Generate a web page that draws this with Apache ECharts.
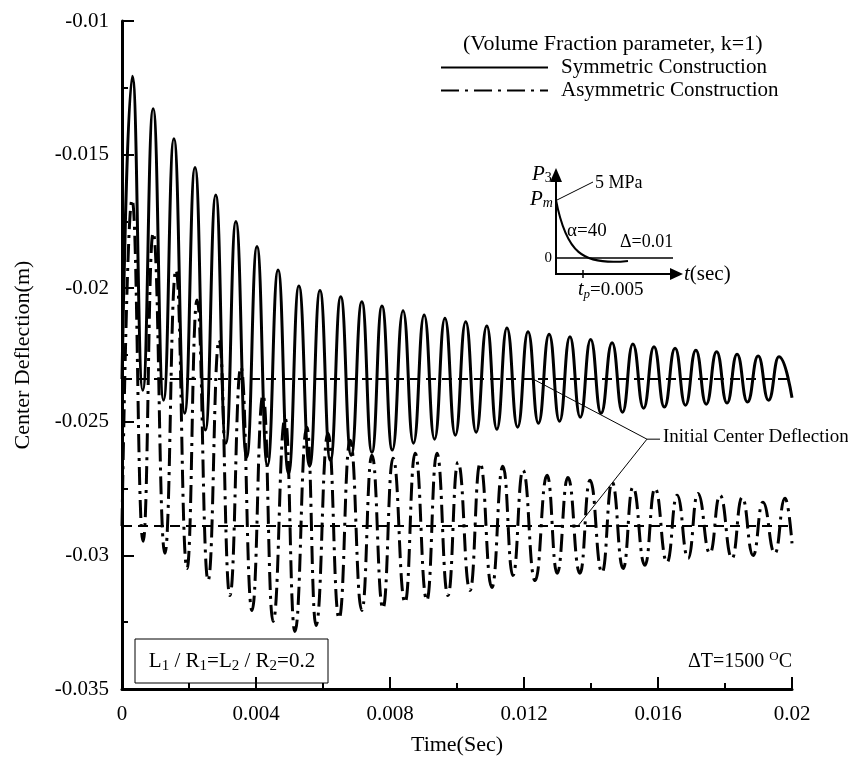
<!DOCTYPE html>
<html>
<head>
<meta charset="utf-8">
<script src="https://cdn.jsdelivr.net/npm/echarts@6/dist/echarts.min.js"></script>
<style>
html, body { margin: 0; padding: 0; background: #fff; }
#chart { width: 848px; height: 762px; }
</style>
</head>
<body>
<div id="chart"></div>
<script>
// symmetric construction - peaks / troughs
const symPeakTime = [0.00031, 0.00093, 0.00155, 0.00218, 0.0028, 0.0034, 0.00403, 0.00466, 0.00528, 0.00591, 0.00653, 0.00716, 0.00776, 0.00839, 0.00902, 0.00964, 0.01026, 0.01089, 0.01149, 0.01212, 0.01275, 0.01337, 0.01399, 0.01463, 0.01525, 0.01588, 0.01651, 0.01713, 0.01775, 0.01836, 0.01899, 0.01961]
const symPeakVal = [-0.01207, -0.01328, -0.01441, -0.01548, -0.01651, -0.0175, -0.01844, -0.01932, -0.01992, -0.02009, -0.02032, -0.02051, -0.02067, -0.02084, -0.021, -0.02112, -0.02126, -0.02141, -0.02149, -0.02163, -0.02172, -0.02182, -0.02192, -0.02204, -0.02209, -0.02219, -0.02225, -0.02232, -0.02238, -0.02247, -0.02254, -0.02257]
const symTroughTime = [0.00062, 0.00124, 0.00187, 0.00249, 0.0031, 0.00372, 0.00434, 0.00497, 0.0056, 0.00622, 0.00684, 0.00746, 0.00807, 0.0087, 0.00933, 0.00995, 0.01057, 0.01119, 0.01181, 0.01243, 0.01306, 0.01368, 0.0143, 0.01494, 0.01557, 0.01619, 0.01682, 0.01744, 0.01806, 0.01867, 0.0193]
const symTroughVal = [-0.02382, -0.02419, -0.02468, -0.02531, -0.0258, -0.02633, -0.02663, -0.02693, -0.02666, -0.02644, -0.02625, -0.02614, -0.02606, -0.0258, -0.02565, -0.0255, -0.02539, -0.02528, -0.0252, -0.02505, -0.02498, -0.02483, -0.02468, -0.02464, -0.02449, -0.02445, -0.02438, -0.02434, -0.0243, -0.02426, -0.02419]
const symEnds = [-0.0234, -0.0241]   // value at t=0 and t=0.02

// asymmetric construction
const asymPeakTime = [0.0003, 0.00093, 0.00161, 0.00224, 0.0029, 0.00355, 0.00421, 0.00487, 0.00552, 0.00615, 0.00681, 0.00746, 0.00809, 0.00875, 0.0094, 0.01003, 0.01069, 0.01137, 0.01197, 0.01269, 0.01331, 0.01397, 0.01463, 0.01525, 0.01591, 0.01657, 0.01719, 0.01785, 0.01851, 0.01913, 0.01979]
const asymPeakVal = [-0.01669, -0.01793, -0.01932, -0.02044, -0.02194, -0.02295, -0.024, -0.02487, -0.0252, -0.02543, -0.02569, -0.02625, -0.02636, -0.02618, -0.02618, -0.02651, -0.02655, -0.02666, -0.02681, -0.027, -0.02708, -0.02719, -0.02726, -0.02745, -0.02749, -0.02775, -0.02768, -0.02775, -0.02783, -0.02801, -0.02786]
const asymTroughTime = [0.00063, 0.00128, 0.00194, 0.00257, 0.00322, 0.00388, 0.00451, 0.00516, 0.00579, 0.00648, 0.00716, 0.00779, 0.00845, 0.0091, 0.00973, 0.01039, 0.01104, 0.01167, 0.01233, 0.01299, 0.01367, 0.01433, 0.01496, 0.01561, 0.01627, 0.0169, 0.01755, 0.01821, 0.01884, 0.01949]
const asymTroughVal = [-0.02947, -0.02992, -0.03049, -0.03094, -0.0315, -0.03206, -0.03247, -0.03285, -0.03262, -0.03236, -0.03206, -0.03198, -0.03176, -0.03168, -0.0315, -0.03131, -0.0312, -0.03075, -0.03094, -0.03067, -0.03067, -0.03064, -0.03049, -0.03037, -0.03026, -0.03011, -0.02992, -0.03011, -0.03, -0.02992]
const asymEnds = [-0.0289, -0.02955]

// initial center deflection lines
const symInit = -0.0234
const asymInit = -0.0289

const FONT = 'Liberation Serif'

// merge start, peaks, troughs and end into one time-ordered list
function buildCurve (pt, pv, tt, tv, ends) {
  let pts = [[0, ends[0]], [0.02, ends[1]]]
  pt.forEach((t, i) => pts.push([t, pv[i]]))
  tt.forEach((t, i) => pts.push([t, tv[i]]))
  pts.sort((a, b) => a[0] - b[0])
  return pts
}

let myChart = echarts.init(document.getElementById('chart'))

// dashed "initial center deflection" line
let dashLine = function (val) {
  return {
    silent: true,
    symbol: 'none',
    precision: 6,
    label: { show: false },
    lineStyle: { color: '#000', type: [10, 6], width: 2 },
    data: [{ yAxis: val }]
  }
}

myChart.setOption({
  animation: false,
  backgroundColor: '#fff',
  textStyle: { fontFamily: FONT, color: '#000' },
  grid: { left: 122, right: 56, top: 21, bottom: 73 },
  legend: {
    left: 440,
    top: 57,
    orient: 'vertical',
    itemWidth: 107,
    itemHeight: 12,
    itemGap: 2,
    padding: 0,
    itemStyle: { opacity: 0 },
    data: ['Symmetric Construction', 'Asymmetric Construction'],
    textStyle: { fontFamily: FONT, fontSize: 21, color: '#000', padding: [0, 0, 0, 8] }
  },
  xAxis: {
    type: 'value',
    min: 0,
    max: 0.02,
    interval: 0.004,
    name: 'Time(Sec)',
    nameLocation: 'middle',
    nameGap: 45,
    nameTextStyle: { fontFamily: FONT, fontSize: 22, color: '#000' },
    axisLine: { lineStyle: { color: '#000', width: 3 } },
    axisTick: { inside: true, length: 12, lineStyle: { color: '#000', width: 2 } },
    minorTick: { show: true, splitNumber: 2, length: 6, lineStyle: { color: '#000', width: 2 } },
    axisLabel: { fontFamily: FONT, fontSize: 21, color: '#000', margin: 15 },
    splitLine: { show: false }
  },
  yAxis: {
    type: 'value',
    min: -0.035,
    max: -0.01,
    interval: 0.005,
    name: 'Center Deflection(m)',
    nameLocation: 'middle',
    nameRotate: 90,
    nameGap: 88,
    nameTextStyle: { fontFamily: FONT, fontSize: 22, color: '#000' },
    axisLine: { onZero: false, lineStyle: { color: '#000', width: 3 } },
    axisTick: { inside: true, length: 12, lineStyle: { color: '#000', width: 2 } },
    minorTick: { show: true, splitNumber: 2, length: 6, lineStyle: { color: '#000', width: 2 } },
    axisLabel: { fontFamily: FONT, fontSize: 21, color: '#000', margin: 13 },
    splitLine: { show: false }
  },
  series: [
    {
      name: 'Symmetric Construction',
      type: 'line',
      symbol: 'none',
      smooth: 0.5,
      smoothMonotone: 'x',
      data: buildCurve(symPeakTime, symPeakVal, symTroughTime, symTroughVal, symEnds),
      lineStyle: { color: '#000', width: 3 },
      itemStyle: { color: '#000' },
      markLine: dashLine(symInit)
    },
    {
      name: 'Asymmetric Construction',
      type: 'line',
      symbol: 'none',
      smooth: 0.5,
      smoothMonotone: 'x',
      data: buildCurve(asymPeakTime, asymPeakVal, asymTroughTime, asymTroughVal, asymEnds),
      lineStyle: { color: '#000', width: 3, type: [18, 6, 3, 6] },
      itemStyle: { color: '#000' },
      markLine: dashLine(asymInit)
    },
    // leader lines of the "Initial Center Deflection" note
    {
      type: 'line',
      silent: true,
      symbol: 'none',
      data: [[0.01227, symInit], [0.01567, -0.02565], [0.01606, -0.02565]],
      lineStyle: { color: '#000', width: 1 }
    },
    {
      type: 'line',
      silent: true,
      symbol: 'none',
      data: [[0.01361, asymInit], [0.01567, -0.02565]],
      lineStyle: { color: '#000', width: 1 }
    }
  ],
  graphic: [
    {
      type: 'text', left: 463, top: 33,
      style: { text: '(Volume Fraction parameter, k=1)', font: '22px "Liberation Serif"', fill: '#000' }
    },
    {
      type: 'text', left: 663, top: 428,
      style: { text: 'Initial Center Deflection', font: '19px "Liberation Serif"', fill: '#000' }
    },
    // parameter box
    {
      type: 'rect', shape: { x: 135, y: 639, width: 193, height: 44 },
      style: { fill: '#fff', stroke: '#000', lineWidth: 1 }
    },
    {
      type: 'text', x: 232, y: 661,
      style: {
        text: '{n|L}{s|1}{n| / R}{s|1}{n|=L}{s|2}{n| / R}{s|2}{n|=0.2}',
        align: 'center', verticalAlign: 'middle',
        rich: {
          n: { fontFamily: FONT, fontSize: 21, fill: '#000', lineHeight: 26 },
          s: { fontFamily: FONT, fontSize: 15, fill: '#000', padding: [10, 0, 0, 0] }
        }
      }
    },
    {
      type: 'text', x: 792, y: 662,
      style: {
        text: '{n|ΔT=1500 }{p|O}{n|C}',
        align: 'right', verticalAlign: 'middle',
        rich: {
          n: { fontFamily: FONT, fontSize: 20, fill: '#000', lineHeight: 24 },
          p: { fontFamily: FONT, fontSize: 13, fill: '#000', padding: [0, 0, 11, 0] }
        }
      }
    },
    // inset: load pulse sketch
    { type: 'line', shape: { x1: 556, y1: 275, x2: 556, y2: 180 }, style: { stroke: '#000', lineWidth: 2 } },
    { type: 'polygon', shape: { points: [[550, 182], [562, 182], [556, 168]] }, style: { fill: '#000' } },
    { type: 'line', shape: { x1: 556, y1: 274, x2: 672, y2: 274 }, style: { stroke: '#000', lineWidth: 2 } },
    { type: 'polygon', shape: { points: [[670, 268], [670, 280], [683, 274]] }, style: { fill: '#000' } },
    { type: 'line', shape: { x1: 556, y1: 258, x2: 673, y2: 258 }, style: { stroke: '#000', lineWidth: 1.5 } },
    { type: 'line', shape: { x1: 583, y1: 270, x2: 583, y2: 278 }, style: { stroke: '#000', lineWidth: 1.5 } },
    {
      type: 'bezierCurve',
      shape: { x1: 556, y1: 200, cpx1: 566, cpy1: 252, cpx2: 582, cpy2: 266, x2: 628, y2: 261 },
      style: { stroke: '#000', lineWidth: 2, fill: null }
    },
    { type: 'line', shape: { x1: 557, y1: 200, x2: 593, y2: 182 }, style: { stroke: '#000', lineWidth: 1 } },
    {
      type: 'text', x: 532, y: 174,
      style: {
        text: '{i|P}{s|3}', align: 'left', verticalAlign: 'middle',
        rich: { i: { fontFamily: FONT, fontStyle: 'italic', fontSize: 21, fill: '#000' }, s: { fontFamily: FONT, fontSize: 14, fill: '#000', padding: [9, 0, 0, 0] } }
      }
    },
    {
      type: 'text', x: 530, y: 199,
      style: {
        text: '{i|P}{s|m}', align: 'left', verticalAlign: 'middle',
        rich: { i: { fontFamily: FONT, fontStyle: 'italic', fontSize: 21, fill: '#000' }, s: { fontFamily: FONT, fontStyle: 'italic', fontSize: 14, fill: '#000', padding: [9, 0, 0, 0] } }
      }
    },
    { type: 'text', x: 595, y: 183, style: { text: '5 MPa', font: '18px "Liberation Serif"', fill: '#000', verticalAlign: 'middle' } },
    { type: 'text', x: 567, y: 231, style: { text: 'α=40', font: '19px "Liberation Serif"', fill: '#000', verticalAlign: 'middle' } },
    { type: 'text', x: 620, y: 242, style: { text: 'Δ=0.01', font: '18px "Liberation Serif"', fill: '#000', verticalAlign: 'middle' } },
    { type: 'text', x: 552, y: 258, style: { text: '0', font: '15px "Liberation Serif"', fill: '#000', align: 'right', verticalAlign: 'middle' } },
    {
      type: 'text', x: 684, y: 274,
      style: {
        text: '{i|t}{n|(sec)}', verticalAlign: 'middle',
        rich: { i: { fontFamily: FONT, fontStyle: 'italic', fontSize: 21, fill: '#000' }, n: { fontFamily: FONT, fontSize: 21, fill: '#000' } }
      }
    },
    {
      type: 'text', x: 578, y: 290,
      style: {
        text: '{i|t}{s|p}{n|=0.005}', verticalAlign: 'middle',
        rich: {
          i: { fontFamily: FONT, fontStyle: 'italic', fontSize: 20, fill: '#000' },
          s: { fontFamily: FONT, fontStyle: 'italic', fontSize: 13, fill: '#000', padding: [9, 0, 0, 0] },
          n: { fontFamily: FONT, fontSize: 19, fill: '#000' }
        }
      }
    }
  ]
})
</script>
</body>
</html>
